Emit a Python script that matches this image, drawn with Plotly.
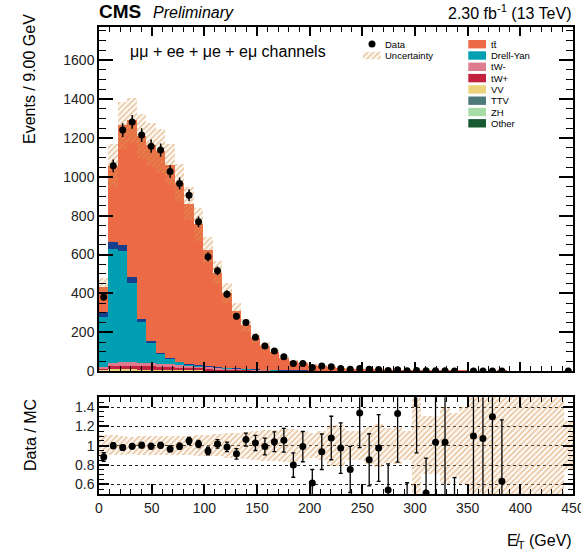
import numpy as np
import plotly.graph_objects as go

# Binning of the missing-ET distribution
bin_width = 9.0
n_bins = 50
centers = bin_width * (np.arange(n_bins) + 0.5)

# Observed events per bin
data = [382, 1056, 1240, 1282, 1214, 1157, 1137, 1027, 965, 905,
        768, 588, 516, 396, 283, 250, 175, 130, 104, 74,
        40, 40, 19, 26, 23, 14, 10, 14, 10, 8,
        4, 7, 2, 4, 2, 2, 2, 1, 0, 1,
        1, 1, 1, 0, 0, 0, 0, 0, 0, 1]

# Simulated backgrounds per bin
ttbar = [129, 391, 617, 806, 940, 1010, 1040, 996, 921, 824,
         725, 597, 485, 383, 294, 223, 160, 123, 93.4, 64.7,
         45.8, 36.8, 28.0, 25.2, 19.2, 12.5, 11.7, 9.1, 10.6, 7.2,
         6.5, 4.5, 4.9, 1.6, 3.45, 1.5, 1.55, 2.65, 1.4, 0.65,
         0.7, 0.55, 1.4, 0.6, 0.55, 0.5, 0.45, 0.4, 0.35, 0.0]
drell_yan = [259, 587, 572, 407, 214, 106, 51, 29, 16, 8,
             4, 3, 2.5, 2, 1.5, 1.2, 1.0, 0.8, 0.6, 0.5,
             0.4, 0.35, 0.3, 0.25, 0.2, 0.2, 0.15, 0.15, 0.1, 0.1,
             0.1, 0.08, 0.07, 0.06, 0.05, 0.05, 0.04, 0.04, 0.03, 0.03,
             0.03, 0.02, 0.02, 0.02, 0.02, 0.01, 0.01, 0.01, 0.01, 0.0]
drell_yan_tautau = [26, 34, 29, 31, 10, 8, 3, 3, 2, 1.5,
                    1, 0.8, 0.6, 0.5, 0.4, 0.3, 0.3, 0.2, 0.2, 0.2,
                    0.15, 0.1, 0.1, 0.1, 0.1, 0.1, 0.1, 0.1, 0.05, 0.05,
                    0.05, 0.05, 0.04, 0.04, 0.03, 0.03, 0.03, 0.02, 0.02, 0.02,
                    0.02, 0.02, 0.01, 0.01, 0.01, 0.01, 0.01, 0.01, 0.01, 0.0]
tw_minus = [5, 16, 18, 18, 17.5, 16.5, 15.5, 14.5, 13, 12,
            10.5, 9, 8, 6.5, 5.5, 4.5, 3.7, 2.9, 2.3, 1.8,
            1.4, 1.2, 0.95, 0.8, 0.65, 0.55, 0.45, 0.38, 0.32, 0.28,
            0.24, 0.2, 0.17, 0.14, 0.12, 0.1, 0.09, 0.08, 0.07, 0.06,
            0.05, 0.05, 0.04, 0.04, 0.03, 0.03, 0.03, 0.02, 0.02, 0.0]
tw_plus = [5, 16, 18, 18, 17.5, 16.5, 15.5, 14.5, 13, 12,
           10.5, 9, 7.5, 6.5, 5.3, 4.3, 3.5, 2.8, 2.2, 1.7,
           1.3, 1.1, 0.9, 0.75, 0.6, 0.5, 0.42, 0.36, 0.3, 0.26,
           0.22, 0.19, 0.16, 0.13, 0.11, 0.1, 0.09, 0.08, 0.07, 0.06,
           0.05, 0.05, 0.04, 0.04, 0.03, 0.03, 0.03, 0.02, 0.02, 0.0]
vv = [5, 6, 5.5, 5, 4.5, 4, 3.5, 3.1, 2.7, 2.4,
      2.1, 1.8, 1.6, 1.4, 1.2, 1.0, 0.9, 0.8, 0.7, 0.6,
      0.5, 0.45, 0.4, 0.35, 0.3, 0.28, 0.25, 0.22, 0.2, 0.18,
      0.16, 0.14, 0.12, 0.11, 0.1, 0.09, 0.08, 0.07, 0.06, 0.06,
      0.05, 0.05, 0.04, 0.04, 0.04, 0.03, 0.03, 0.03, 0.02, 0.0]
ttv = [0.3, 0.6, 0.8, 0.9, 1.0, 1.0, 1.0, 1.0, 1.0, 0.9,
       0.9, 0.8, 0.7, 0.6, 0.55, 0.5, 0.45, 0.4, 0.35, 0.3,
       0.27, 0.24, 0.21, 0.18, 0.16, 0.14, 0.12, 0.1, 0.09, 0.08,
       0.07, 0.06, 0.05, 0.05, 0.04, 0.04, 0.03, 0.03, 0.03, 0.02,
       0.02, 0.02, 0.02, 0.01, 0.01, 0.01, 0.01, 0.01, 0.01, 0.0]
zh = [2.5, 3, 2.5, 2, 1.6, 1.3, 1.0, 0.8, 0.6, 0.5,
      0.4, 0.3, 0.25, 0.2, 0.15, 0.12, 0.1, 0.08, 0.06, 0.05,
      0.04, 0.03, 0.03, 0.02, 0.02, 0.02, 0.01, 0.01, 0.01, 0.01,
      0.01, 0.0, 0.0, 0.0, 0.0, 0.0, 0.0, 0.0, 0.0, 0.0,
      0.0, 0.0, 0.0, 0.0, 0.0, 0.0, 0.0, 0.0, 0.0, 0.0]
other = [1.5, 2, 2, 1.8, 1.5, 1.3, 1.1, 1.0, 0.9, 0.8,
         0.7, 0.6, 0.5, 0.45, 0.4, 0.35, 0.3, 0.25, 0.2, 0.18,
         0.15, 0.13, 0.11, 0.1, 0.08, 0.07, 0.06, 0.05, 0.05, 0.04,
         0.04, 0.03, 0.03, 0.03, 0.02, 0.02, 0.02, 0.02, 0.01, 0.01,
         0.01, 0.01, 0.01, 0.01, 0.01, 0.01, 0.01, 0.01, 0.01, 0.0]

# Relative total uncertainty on the prediction per bin
rel_unc = [0.11, 0.105, 0.095, 0.09, 0.095, 0.095, 0.1, 0.1, 0.1, 0.1,
           0.11, 0.11, 0.115, 0.13, 0.13, 0.14, 0.15, 0.16, 0.16, 0.17,
           0.17, 0.15, 0.13, 0.15, 0.21, 0.21, 0.15, 0.15, 0.19, 0.22,
           0.18, 0.19, 0.15, 0.6, 0.3, 0.3, 0.4, 0.33, 0.4, 0.55,
           0.8, 0.8, 0.8, 0.8, 0.8, 0.8, 0.8, 0.8, 0.8, 0.25]

FONT = "Liberation Sans"
HATCH = "#d8964f"

# Stack order, bottom to top
stack = [
    ("Other", other, "#175a32"),
    ("ZH", zh, "#a8dca6"),
    ("TTV", ttv, "#4f7a7c"),
    ("VV", vv, "#ebd47c"),
    ("tW+", tw_plus, "#c3223f"),
    ("tW-", tw_minus, "#df7b8f"),
    ("Drell-Yan", drell_yan, "#009fb2"),
    ("Drell-Yan ττ", drell_yan_tautau, "#173f8f"),
    ("tt̄", ttbar, "#ec6a45"),
]

fig = go.Figure()

base = np.zeros(n_bins)
for name, vals, col in stack:
    v = np.asarray(vals, dtype=float)
    fig.add_trace(go.Bar(
        x=centers, y=v, base=base.copy(), width=bin_width, name=name,
        marker=dict(color=col, line=dict(width=0)), opacity=1,
        showlegend=False, xaxis="x", yaxis="y", hoverinfo="skip"))
    base = base + v
mc_total = base

rel = np.asarray(rel_unc, dtype=float)
obs = np.asarray(data, dtype=float)

hatch = dict(shape="/", fgcolor=HATCH, bgcolor="rgba(0,0,0,0)",
             size=4, solidity=0.5, fillmode="overlay")

# Uncertainty band on the stacked prediction
fig.add_trace(go.Bar(
    x=centers, y=2 * rel * mc_total, base=mc_total * (1 - rel), width=bin_width,
    marker=dict(color="rgba(0,0,0,0)", pattern=hatch, line=dict(width=0)),
    showlegend=False, xaxis="x", yaxis="y", hoverinfo="skip"))

# Data points
m = obs > 0
fig.add_trace(go.Scatter(
    x=centers[m], y=obs[m], mode="markers",
    marker=dict(color="black", size=7),
    error_y=dict(type="data", array=np.sqrt(obs[m]), thickness=1.5, width=0, color="black"),
    showlegend=False, xaxis="x", yaxis="y"))

# Ratio panel: uncertainty band and data / prediction
fig.add_trace(go.Bar(
    x=centers, y=2 * rel, base=1 - rel, width=bin_width,
    marker=dict(color="rgba(0,0,0,0)", pattern=hatch, line=dict(width=0)),
    showlegend=False, xaxis="x2", yaxis="y2", hoverinfo="skip"))

valid = (obs > 0) & (mc_total > 0)
ratio = np.where(valid, obs / np.where(mc_total > 0, mc_total, 1), np.nan)
ratio_err = np.where(valid, ratio / np.sqrt(np.where(obs > 0, obs, 1)), np.nan)
fig.add_trace(go.Scatter(
    x=centers[valid], y=ratio[valid], mode="markers",
    marker=dict(color="black", size=7),
    error_y=dict(type="data", array=ratio_err[valid], thickness=1.3, width=2, color="black"),
    showlegend=False, xaxis="x2", yaxis="y2"))

# Pixel helpers for the hand-placed legend and labels
L, R, T, B = 99, 573, 27, 494
def px(x):
    return (x - L) / (R - L)
def py(y):
    return (B - y) / (B - T)

# Legend symbols drawn on an invisible overlay axis in pixel units
fig.add_trace(go.Scatter(
    x=[372], y=[44], mode="markers", marker=dict(color="black", size=7),
    showlegend=False, xaxis="x3", yaxis="y3", hoverinfo="skip"))
fig.add_trace(go.Scatter(
    x=[362.7, 380.7, 380.7, 362.7, 362.7], y=[51.7, 51.7, 59.3, 59.3, 51.7],
    mode="lines", line=dict(width=0), fill="toself",
    fillcolor="rgba(0,0,0,0)", fillpattern=hatch,
    showlegend=False, xaxis="x3", yaxis="y3", hoverinfo="skip"))

shapes = []
annotations = []
legend_entries = [("tt\u0304", "#ec6a45"), ("Drell-Yan", "#009fb2"), ("tW-", "#df7b8f"),
                  ("tW+", "#c3223f"), ("VV", "#ebd47c"), ("TTV", "#4f7a7c"),
                  ("ZH", "#a8dca6"), ("Other", "#175a32")]
for i, (label, col) in enumerate(legend_entries):
    yc = 44.2 + 11.3 * i
    shapes.append(dict(type="rect", xref="paper", yref="paper",
                       x0=px(468.3), x1=px(486), y0=py(yc + 4.2), y1=py(yc - 4.2),
                       fillcolor=col, line=dict(width=0)))
    annotations.append(dict(x=px(488.5), y=py(yc), xref="paper", yref="paper",
                            text=label, showarrow=False,
                            xanchor="left", yanchor="middle",
                            font=dict(family=FONT, size=9.5, color="black")))
annotations.append(dict(x=px(383.3), y=py(44), xref="paper", yref="paper", text="Data",
                        showarrow=False, xanchor="left", yanchor="middle",
                        font=dict(family=FONT, size=9.5, color="black")))
annotations.append(dict(x=px(383.3), y=py(55.5), xref="paper", yref="paper", text="Uncertainty",
                        showarrow=False, xanchor="left", yanchor="middle",
                        font=dict(family=FONT, size=9.5, color="black")))

# Header texts
annotations += [
    dict(x=px(97), y=py(12), xref="paper", yref="paper", text="<b>CMS</b>",
         showarrow=False, xanchor="left", yanchor="middle",
         font=dict(family=FONT, size=19, color="black")),
    dict(x=px(151), y=py(13), xref="paper", yref="paper", text="<i>Preliminary</i>",
         showarrow=False, xanchor="left", yanchor="middle",
         font=dict(family=FONT, size=16, color="black")),
    dict(x=px(574), y=py(12), xref="paper", yref="paper",
         text="2.30 fb<sup>-1</sup> (13 TeV)",
         showarrow=False, xanchor="right", yanchor="middle",
         font=dict(family=FONT, size=16, color="black")),
    dict(x=px(128), y=py(51), xref="paper", yref="paper",
         text="\u03bc\u03bc + ee + \u03bce + e\u03bc channels",
         showarrow=False, xanchor="left", yanchor="middle",
         font=dict(family=FONT, size=16, color="black")),
    dict(x=px(30), y=py(12), xref="paper", yref="paper", text="Events / 9.00 GeV",
         textangle=-90, showarrow=False, xanchor="center", yanchor="top",
         font=dict(family=FONT, size=16, color="black")),
    dict(x=px(30), y=py(397), xref="paper", yref="paper", text="Data / MC",
         textangle=-90, showarrow=False, xanchor="center", yanchor="top",
         font=dict(family=FONT, size=16, color="black")),
    dict(x=px(574), y=py(541), xref="paper", yref="paper",
         text="E\u0338<sub>T</sub> (GeV)",
         showarrow=False, xanchor="right", yanchor="middle",
         font=dict(family=FONT, size=16, color="black")),
]

axis_common = dict(showline=True, linecolor="black", linewidth=1.5, mirror="allticks",
                   ticks="inside", tickcolor="black", tickwidth=1.5,
                   zeroline=False, showgrid=False, automargin=False,
                   tickfont=dict(family=FONT, size=14, color="#222"))

fig.update_layout(
    width=581, height=558,
    margin=dict(l=L, r=581 - R, t=T, b=558 - B, autoexpand=False),
    paper_bgcolor="white", plot_bgcolor="rgba(0,0,0,0)",
    barmode="overlay", bargap=0,
    showlegend=False,
    xaxis=dict(domain=[0, 1], anchor="y", range=[0, 450], dtick=50, tick0=0,
               ticklen=9, showticklabels=False,
               minor=dict(ticks="inside", ticklen=5, dtick=10, tickcolor="black", tickwidth=1),
               **axis_common),
    yaxis=dict(domain=[0.263, 1], anchor="x", range=[0, 1770], dtick=200, tick0=0,
               ticklen=14,
               minor=dict(ticks="inside", ticklen=7, dtick=50, tickcolor="black", tickwidth=1),
               **axis_common),
    xaxis2=dict(domain=[0, 1], anchor="y2", range=[0, 450], dtick=50, tick0=0,
                ticklen=10, ticklabeloverflow="allow",
                minor=dict(ticks="inside", ticklen=5, dtick=10, tickcolor="black", tickwidth=1),
                **axis_common),
    yaxis2=dict(domain=[0, 0.207], anchor="x2", range=[0.5, 1.5], dtick=0.2, tick0=0,
                ticklen=10,
                minor=dict(ticks="inside", ticklen=5, dtick=0.05, tickcolor="black", tickwidth=1),
                **{k: v for k, v in axis_common.items() if k != "showgrid"},
                showgrid=True, gridcolor="#222", griddash="dot", gridwidth=1),
    xaxis3=dict(overlaying="x", anchor="y3", range=[L, R], visible=False),
    yaxis3=dict(overlaying="y", anchor="x3", range=[371.2, T], visible=False),
    shapes=shapes,
    annotations=annotations,
)

fig.write_html("out.html")
